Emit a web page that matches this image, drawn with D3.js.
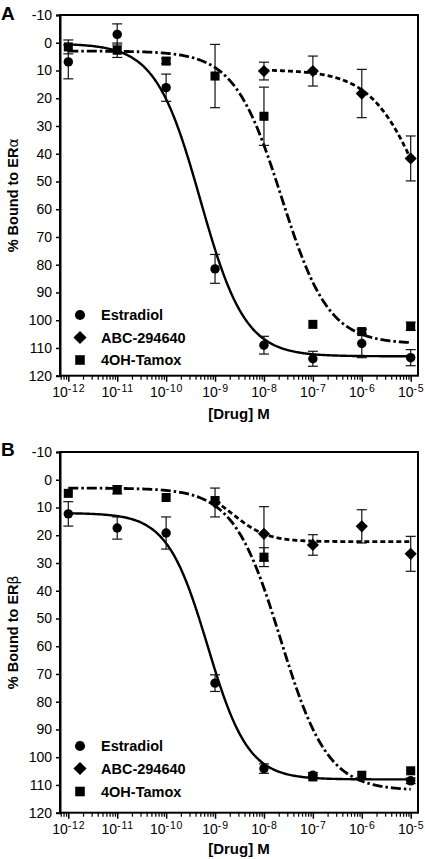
<!DOCTYPE html>
<html><head><meta charset="utf-8">
<script src="https://cdn.jsdelivr.net/npm/d3@7"></script>
<style>
body{margin:0;background:#fff}
svg{display:block}
text{font-family:"Liberation Sans",Arial,Helvetica,sans-serif;fill:#000}
</style>
</head><body>
<script>
// ---- data ----
const concentrations = [1e-12,1e-11,1e-10,1e-9,1e-8,1e-7,1e-6,1e-5];
const xTickExponents = [-12,-11,-10,-9,-8,-7,-6,-5];
const yTicks = [-10,0,10,20,30,40,50,60,70,80,90,100,110,120];
const seriesNames = ["Estradiol","ABC-294640","4OH-Tamox"];
const panelLetters = ["A","B"];
const yTitles = ["α","β"];

// Panel A (ERα)
const estradiolA    = [6.9, -3.0, 16.2, 81.5, 109.0, 113.9, 108.4, 113.5];
const estradiolAErr = [6.1, 3.8, 4.9, 5.2, 3.2, 2.7, 5.1, 2.9];
const abcA          = [null, null, null, null, 10.2, 10.2, 18.3, 41.7];
const abcAErr       = [0, 0, 0, 0, 3.2, 5.4, 8.7, 8.1];
const tamoxA        = [1.5, 2.7, 6.6, 12.0, 26.5, 101.5, 104.1, 102.2];
const tamoxAErr     = [2.5, 2.6, 1.0, 11.4, 10.5, 0, 0.8, 1.5];
// fitted curves: [top, bottom, logIC50, hill, fromLog, toLog]
const estradiolFitA = [0.3, 113, -9.3, 0.95, -12, -5];
const abcFitA       = [9.7, 100, -4.68, 0.8, -8, -5];
const tamoxFitA     = [3, 108.5, -7.64, 0.9, -12, -5];

// Panel B (ERβ)
const estradiolB    = [12.3, 17.4, 19.2, 73.3, 104.1, 106.5, null, 108.5];
const estradiolBErr = [4.4, 4.0, 5.8, 3.0, 1.7, 1.0, 0, 1.0];
const abcB          = [null, null, null, 8.2, 19.5, 23.5, 16.8, 26.7];
const abcBErr       = [0, 0, 0, 5.2, 9.8, 3.7, 6.0, 6.3];
const tamoxB        = [4.9, 3.6, 6.4, 7.5, 27.9, 107.1, 106.5, 104.9];
const tamoxBErr     = [0, 1.5, 0, 0, 3.4, 0, 0, 0];
const estradiolFitB = [12, 108, -9.15, 1.05, -12, -5];
const abcFitB       = [3, 22.3, -8.62, 1.25, -9, -5];
const tamoxFitB     = [3, 112, -7.66, 0.9, -12, -5];

// ---- layout ----
const W = 425, H = 859;
const plotLeft = 60, plotRight = 418;
const panels = [
  {top: 15, bottom: 375.7, legendY: [315, 337.5, 360], titleY: 419, letterY: 20,
   series: [
     {vals: estradiolA, err: estradiolAErr, fit: estradiolFitA},
     {vals: abcA, err: abcAErr, fit: abcFitA},
     {vals: tamoxA, err: tamoxAErr, fit: tamoxFitA}]},
  {top: 452, bottom: 812.7, legendY: [746, 768.5, 791.5], titleY: 854, letterY: 456,
   series: [
     {vals: estradiolB, err: estradiolBErr, fit: estradiolFitB},
     {vals: abcB, err: abcBErr, fit: abcFitB},
     {vals: tamoxB, err: tamoxBErr, fit: tamoxFitB}]}
];
const lineStyles = [
  {dash: null, width: 2.4},
  {dash: "5,3", width: 2.8},
  {dash: "10,3,2.5,3", width: 2.8}
];
const markerShapes = [d3.symbolCircle, d3.symbolDiamond2, d3.symbolSquare];
const markerSizes = [70, 95, 82];
const drawOrder = [0, 2, 1];

const svg = d3.select("body").append("svg").attr("width", W).attr("height", H);

const x = d3.scaleLog().domain([1e-12, 1e-5]).range([68.3, 410.7]);
const minorTicks = [];
for (let e = -13; e <= -5; e++) for (let m = 2; m <= 9; m++) {
  const v = m * Math.pow(10, e);
  const px = x(v);
  if (px >= plotLeft + 0.5 && px <= plotRight - 0.5) minorTicks.push(v);
}

function symbolPath(i, s) {
  return d3.symbol().type(markerShapes[i]).size(s || markerSizes[i])();
}

panels.forEach((p, pi) => {
  const y = d3.scaleLinear().domain([-10, 120]).range([p.top, p.bottom]);
  const g = svg.append("g");

  // frame
  g.append("rect").attr("x", plotLeft).attr("y", p.top)
    .attr("width", plotRight - plotLeft).attr("height", p.bottom - p.top)
    .attr("fill", "none").attr("stroke", "#000").attr("stroke-width", 2);

  // y axis
  const ya = g.append("g").attr("transform", `translate(${plotLeft},0)`)
    .call(d3.axisLeft(y).tickValues(yTicks).tickSize(4).tickPadding(4).tickFormat(d => String(d)));
  ya.select(".domain").attr("stroke-width", 2);
  ya.selectAll(".tick line").attr("stroke-width", 1.5);
  ya.selectAll("text").attr("font-size", 14).attr("font-family", '"Liberation Sans",Arial,sans-serif').attr("fill", "#000");

  // x axis minor
  const xmin = g.append("g").attr("transform", `translate(0,${p.bottom})`)
    .call(d3.axisBottom(x).tickValues(minorTicks).tickSize(4).tickFormat(""));
  xmin.select(".domain").remove();
  xmin.selectAll(".tick line").attr("stroke-width", 1.2);

  // x axis major
  const xa = g.append("g").attr("transform", `translate(0,${p.bottom})`)
    .call(d3.axisBottom(x).tickValues(concentrations).tickSize(6).tickPadding(5).tickFormat(""));
  xa.select(".domain").remove();
  xa.selectAll(".tick line").attr("stroke-width", 1.5);
  xa.selectAll(".tick text").each(function(d, i) {
    const t = d3.select(this).attr("font-size", 14).attr("font-family", '"Liberation Sans",Arial,sans-serif').attr("fill", "#000");
    t.append("tspan").text("10");
    t.append("tspan").attr("dy", "-5").attr("font-size", 10.5).attr("letter-spacing", 0.8).text("-" + Math.abs(xTickExponents[i]));
  });

  // curves
  const clip = "clip" + pi;
  svg.append("clipPath").attr("id", clip).append("rect")
    .attr("x", plotLeft).attr("y", p.top).attr("width", plotRight - plotLeft).attr("height", p.bottom - p.top);
  p.series.forEach((s, si) => {
    const [top, bot, L, h, from, to] = s.fit;
    const pts = d3.range(0, 301).map(k => {
      const lx = from + (to - from) * k / 300;
      return [lx, top + (bot - top) / (1 + Math.pow(10, (L - lx) * h))];
    });
    g.append("path").attr("clip-path", `url(#${clip})`)
      .attr("d", d3.line().x(d => x(Math.pow(10, d[0]))).y(d => y(d[1]))(pts))
      .attr("fill", "none").attr("stroke", "#000")
      .attr("stroke-width", lineStyles[si].width)
      .attr("stroke-dasharray", lineStyles[si].dash);
  });

  // error bars
  p.series.forEach((s, si) => {
    s.vals.forEach((v, i) => {
      if (v == null || !s.err[i]) return;
      const cx = x(concentrations[i]);
      const y1 = y(v - s.err[i]), y2 = y(v + s.err[i]);
      const eg = g.append("g").attr("stroke", "#111").attr("stroke-width", 1.2);
      eg.append("line").attr("x1", cx).attr("x2", cx).attr("y1", y1).attr("y2", y2);
      eg.append("line").attr("x1", cx - 5).attr("x2", cx + 5).attr("y1", y1).attr("y2", y1);
      eg.append("line").attr("x1", cx - 5).attr("x2", cx + 5).attr("y1", y2).attr("y2", y2);
    });
  });

  // markers
  drawOrder.forEach(si => {
    const s = p.series[si];
    s.vals.forEach((v, i) => {
      if (v == null) return;
      g.append("path").attr("d", symbolPath(si))
        .attr("transform", `translate(${x(concentrations[i])},${y(v)})`)
        .attr("fill", "#000");
    });
  });

  // legend
  seriesNames.forEach((name, si) => {
    const ly = p.legendY[si];
    g.append("path").attr("d", symbolPath(si, [80, 110, 92][si]))
      .attr("transform", `translate(80,${ly})`).attr("fill", "#000");
    g.append("text").attr("x", 101).attr("y", ly + 5)
      .attr("font-size", 14.5).attr("font-weight", "bold").text(name);
  });

  // titles
  g.append("text").attr("x", 239).attr("y", p.titleY).attr("text-anchor", "middle")
    .attr("font-size", 15).attr("font-weight", "bold").text("[Drug] M");
  const yt = g.append("text")
    .attr("transform", `translate(18,${(p.top + p.bottom) / 2}) rotate(-90)`)
    .attr("text-anchor", "middle").attr("font-size", 14.5).attr("font-weight", "bold");
  yt.append("tspan").text("% Bound to ER");
  yt.append("tspan").attr("font-weight", "normal").attr("font-family", '"DejaVu Sans",sans-serif').attr("font-size", 14).text(yTitles[pi]);

  g.append("text").attr("x", 1).attr("y", p.letterY)
    .attr("font-size", 19).attr("font-weight", "bold").text(panelLetters[pi]);
});
</script>
</body></html>
